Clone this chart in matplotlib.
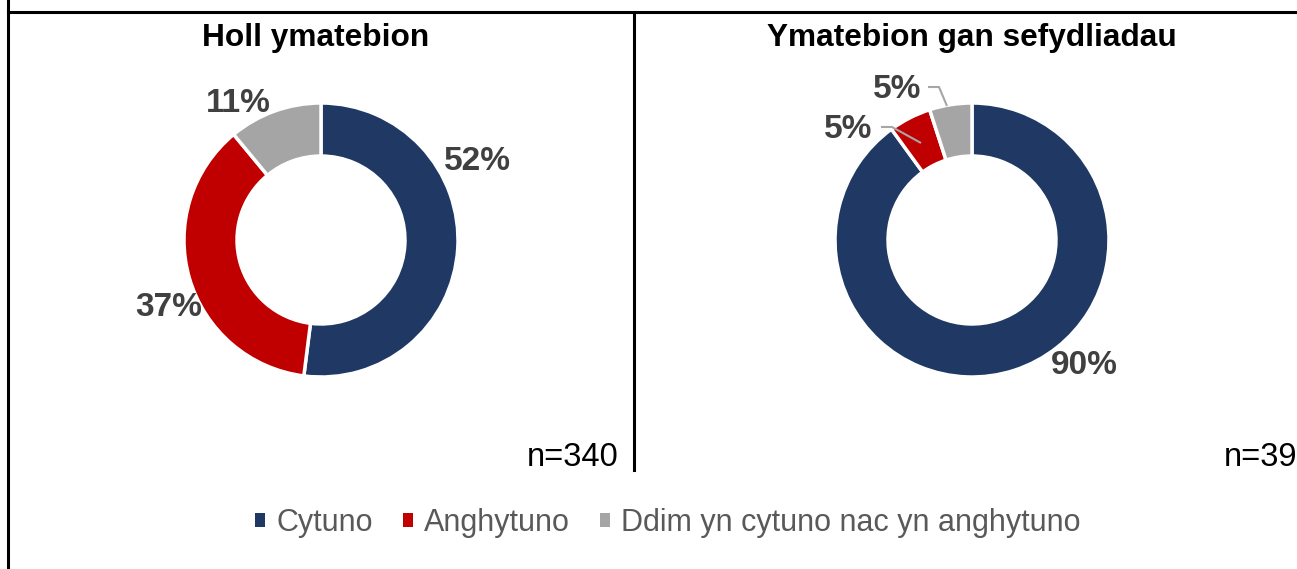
import matplotlib
matplotlib.use("Agg")
import matplotlib.pyplot as plt
from matplotlib.patches import Patch
from matplotlib.lines import Line2D

plt.rcParams['font.family'] = ['Liberation Sans', 'DejaVu Sans']

categories = ["Cytuno", "Anghytuno", "Ddim yn cytuno nac yn anghytuno"]
colors = ["#1F3864", "#C00000", "#A5A5A5"]
titles = ["Holl ymatebion", "Ymatebion gan sefydliadau"]
values_all = [52, 37, 11]
values_org = [90, 5, 5]
n_labels = ["n=340", "n=39"]

W, H = 1297, 569
fig = plt.figure(figsize=(W / 100, H / 100), dpi=100)

def px_axes(cx, cy, half):
    return fig.add_axes([(cx - half) / W, (H - cy - half) / H, 2 * half / W, 2 * half / H])

R = 137.0
HALF = 160.0
lim = HALF / R
label_color = "#404040"

def donut(cx, cy, vals, label_pos, leaders=None):
    ax = px_axes(cx, cy, HALF)
    ax.pie(vals, colors=colors, startangle=90, counterclock=False, radius=1.0,
           wedgeprops=dict(width=0.387, edgecolor="white", linewidth=2.5))
    ax.set_xlim(-lim, lim)
    ax.set_ylim(-lim, lim)
    ax.set_aspect("equal")
    ax.axis("off")
    for v, (x, y) in zip(vals, label_pos):
        ax.text(x, y, f"{v}%", ha="center", va="center", fontsize=24,
                fontweight="bold", color=label_color)
    if leaders:
        for pts in leaders:
            xs = [(p[0] - cx) / R for p in pts]
            ys = [(cy - p[1]) / R for p in pts]
            ax.plot(xs, ys, color="#A6A6A6", lw=1.5, solid_capstyle="butt")
    return ax

def to_data(cx, cy, px, py):
    return ((px - cx) / R, (cy - py) / R)

# Left donut
cxL, cyL = 321, 240
posL = [to_data(cxL, cyL, 477, 162), to_data(cxL, cyL, 169, 308), to_data(cxL, cyL, 238, 104)]
donut(cxL, cyL, values_all, posL)

# Right donut
cxR, cyR = 972, 240
posR = [to_data(cxR, cyR, 1084, 366), to_data(cxR, cyR, 848, 130), to_data(cxR, cyR, 897, 90)]
leadersR = [[(881, 127), (892, 127), (921, 143)],
            [(928, 87), (939, 87), (947, 106)]]
donut(cxR, cyR, values_org, posR, leadersR)

# Titles
fig.text(316 / W, 1 - 46 / H, titles[0], ha="center", va="baseline", fontsize=22.8,
         fontweight="bold", color="black")
fig.text(972 / W, 1 - 46 / H, titles[1], ha="center", va="baseline", fontsize=22.8,
         fontweight="bold", color="black")

# n labels
fig.text(619 / W, 1 - 466 / H, n_labels[0], ha="right", va="baseline", fontsize=23.5, color="black")
fig.text(1297 / W, 1 - 466 / H, n_labels[1], ha="right", va="baseline", fontsize=23.5, color="black")

# Frame lines
fig.add_artist(Line2D([8 / W, 1.0], [1 - 12 / H, 1 - 12 / H], color="black", lw=2.2))
fig.add_artist(Line2D([8 / W, 8 / W], [0, 1], color="black", lw=2.2))
fig.add_artist(Line2D([634 / W, 634 / W], [1 - 12 / H, 1 - 470 / H], color="black", lw=2.2))

# Legend
handles = [Patch(facecolor=c, edgecolor="none") for c in colors]
leg = fig.legend(handles, categories, ncol=3, loc="center",
                 bbox_to_anchor=(668 / W, 1 - 523 / H), frameon=False,
                 fontsize=22, handlelength=0.33, handleheight=0.33,
                 handletextpad=0.35, columnspacing=1.0, labelcolor="#595959")

fig.savefig("out.png", dpi=100)
